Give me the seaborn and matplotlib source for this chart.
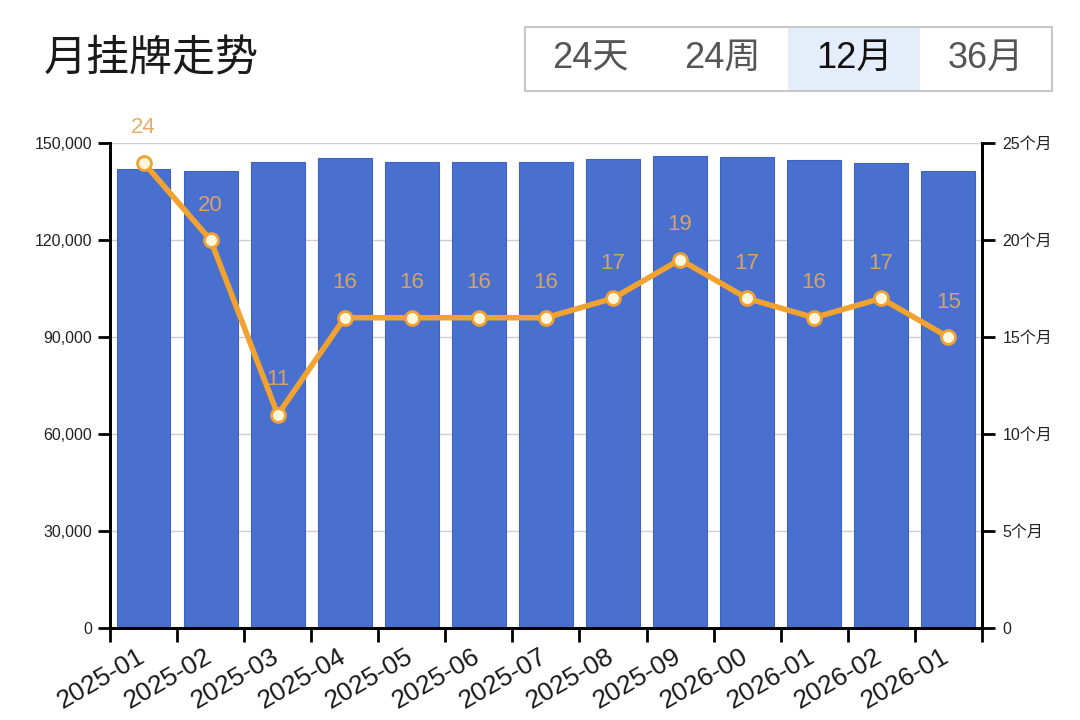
import numpy as np
import pandas as pd
import matplotlib
matplotlib.use("Agg")
import matplotlib.pyplot as plt
from matplotlib.patches import Rectangle
from matplotlib.ticker import FixedLocator, FuncFormatter
from matplotlib.transforms import ScaledTranslation
import seaborn as sns

# data
months = ['2025-01', '2025-02', '2025-03', '2025-04', '2025-05', '2025-06', '2025-07',
          '2025-08', '2025-09', '2026-00', '2026-01', '2026-02', '2026-01']
listings = [142000, 141500, 144300, 145300, 144100, 144200, 144200,
            145000, 146000, 145600, 144800, 144000, 141500]
months_supply = [24, 20, 11, 16, 16, 16, 16, 17, 19, 17, 16, 17, 15]
right_ticks = [0, 5, 10, 15, 20, 25]
right_labels = ['0', '5个月', '10个月', '15个月', '20个月', '25个月']
buttons = ['24天', '24周', '12月', '36月']
active = '12月'

df = pd.DataFrame({'pos': np.arange(len(months)), 'month': months,
                   'listings': listings, 'supply': months_supply})

sns.set_style('white')
plt.rcParams['font.family'] = ['Liberation Sans', 'Noto Sans CJK SC', 'DejaVu Sans']

fig = plt.figure(figsize=(10.8, 7.2), dpi=100)
ax = fig.add_axes([0.102, 0.128, 0.807, 0.673])

# bars
sns.barplot(data=df, x='pos', y='listings', color='#4A70CF', saturation=1,
            width=0.8, edgecolor='#3F63C2', linewidth=0.8, ax=ax, zorder=2)
ax.set_xlim(-0.5, len(months) - 0.5)
ax.set_ylim(0, 150000)
ax.set_yticks(np.arange(0, 150001, 30000))
ax.yaxis.set_major_formatter(FuncFormatter(lambda v, p: f'{int(v):,}'))
ax.grid(axis='y', color='#CFCFCF', linewidth=1, zorder=0)
ax.set_axisbelow(True)
ax.set_xlabel('')
ax.set_ylabel('')

# x ticks: marks on bar boundaries, labels under bars
ax.set_xticks(np.arange(len(months)))
ax.set_xticklabels(months, rotation=30, ha='right', rotation_mode='anchor',
                   fontsize=19, color='#1a1a1a')
ax.tick_params(axis='x', which='major', length=0, pad=12)
shift = ScaledTranslation(-0.07, 0, fig.dpi_scale_trans)
for lab in ax.get_xticklabels():
    lab.set_transform(lab.get_transform() + shift)
ax.xaxis.set_minor_locator(FixedLocator(np.arange(-0.5, len(months), 1)))
ax.tick_params(axis='x', which='minor', length=10, width=2, color='black', bottom=True)
ax.tick_params(axis='y', length=9, width=2, color='black', labelsize=11.5,
               labelcolor='#222222', left=True, pad=4)

for s in ['left', 'bottom', 'right']:
    ax.spines[s].set_color('black')
    ax.spines[s].set_linewidth(2)
ax.spines['top'].set_visible(False)

# line on the right axis
ax2 = ax.twinx()
sns.lineplot(data=df, x='pos', y='supply', ax=ax2, color='#F2A22E', linewidth=4,
             marker='o', markersize=10, markerfacecolor='#FFF6DF',
             markeredgecolor='#F2A22E', markeredgewidth=2, zorder=5)
ax2.set_ylim(0, 25)
ax2.set_xlim(-0.5, len(months) - 0.5)
ax2.set_yticks(right_ticks)
ax2.set_yticklabels(right_labels)
ax2.set_ylabel('')
ax2.tick_params(axis='y', length=9, width=2, color='black', labelsize=11.5,
                labelcolor='#222222', right=True, pad=6)
for s in ['left', 'bottom', 'right']:
    ax2.spines[s].set_color('black')
    ax2.spines[s].set_linewidth(2)
ax2.spines['top'].set_visible(False)

for i, v in enumerate(months_supply):
    ax2.annotate(str(v), (i, v), xytext=(0, 25), textcoords='offset points',
                 ha='center', va='center', fontsize=16, color='#E3A85E', alpha=0.92)

# title
fig.text(0.041, 0.918, '月挂牌走势', fontsize=31, color='#1a1a1a', va='center',
         family=['Noto Sans CJK SC', 'DejaVu Sans'])

# segmented buttons
bx, by, bw, bh = 0.486, 0.874, 0.488, 0.089
seg = bw / len(buttons)
for k, b in enumerate(buttons):
    if b == active:
        fig.add_artist(Rectangle((bx + k * seg, by), seg, bh, transform=fig.transFigure,
                                 facecolor='#E4EEFB', edgecolor='none'))
    fig.text(bx + (k + 0.5) * seg, by + bh / 2, b, ha='center', va='center', fontsize=26,
             color='#111111' if b == active else '#555555',
             family=['Liberation Sans', 'Noto Sans CJK SC'])
fig.add_artist(Rectangle((bx, by), bw, bh, transform=fig.transFigure,
                         facecolor='none', edgecolor='#C8C8C8', linewidth=1.5))

fig.savefig('out.png', dpi=100)
